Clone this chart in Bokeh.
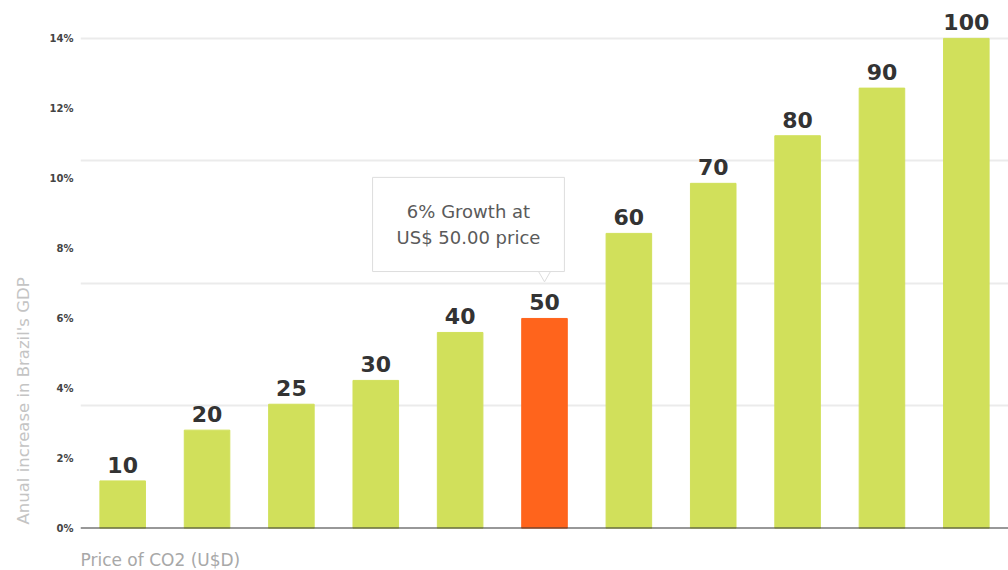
from bokeh.plotting import figure
from bokeh.models import (ColumnDataSource, FactorRange, Range1d, LabelSet, Label,
                          FixedTicker, PrintfTickFormatter, Span, Title)
from bokeh.core.properties import value
from bokeh.embed import file_html
from bokeh.resources import INLINE

# CO2 price (US$) and the resulting annual increase in Brazil's GDP (%)
prices = ["10", "20", "25", "30", "40", "50", "60", "70", "80", "90", "100"]
growth = [1.36, 2.81, 3.55, 4.23, 5.6, 6.0, 8.43, 9.86, 11.22, 12.58, 14.0]
highlight = "50"
y_ticks = [0, 2, 4, 6, 8, 10, 12, 14]
grid_ticks = [3.5, 7, 10.5, 14]

GREEN = "#d1e05b"
ORANGE = "#ff641c"

colors = [ORANGE if p_ == highlight else GREEN for p_ in prices]
src = ColumnDataSource(dict(price=prices, growth=growth, color=colors))

p = figure(width=1008, height=570,
           x_range=FactorRange(factors=prices, range_padding=0),
           y_range=Range1d(0, 14.94),
           output_backend="svg", toolbar_location=None,
           min_border_left=80, min_border_right=0,
           min_border_top=5, min_border_bottom=39)
p.outline_line_color = None
p.background_fill_color = "white"

p.vbar(x="price", top="growth", width=0.54, color="color", source=src)

# price labels above each bar
p.add_layout(LabelSet(x="price", y="growth", text="price", source=src,
                      text_align="center", text_baseline="alphabetic", y_offset=8,
                      text_font=value("DejaVu Sans"), text_font_style="bold",
                      text_font_size="22px", text_color="#333333"))

# callout for the highlighted price (synthetic x: centre of its category slot)
hi = prices.index(highlight)
p.scatter(x=[highlight], y=[growth[hi] + 1.31], marker="inverted_triangle", size=16,
          fill_color="white", line_color="#dddddd", line_width=1)
p.add_layout(Label(x=hi + 0.5, y=growth[hi], x_offset=-76, y_offset=94,
                   text=f"{growth[hi]:g}% Growth at\nUS$ {float(highlight):.2f} price",
                   text_align="center", text_baseline="middle",
                   text_font="DejaVu Sans", text_font_size="18px", text_color="#5a5a5a",
                   background_fill_color="white", border_line_color="#dddddd",
                   padding=24))

# x axis: only the dark baseline
p.xaxis.visible = False
p.xgrid.visible = False
p.add_layout(Span(location=0, dimension="width", line_color="#333333", line_width=2))

p.yaxis.ticker = FixedTicker(ticks=y_ticks)
p.yaxis.formatter = PrintfTickFormatter(format="%d%%")
p.yaxis.axis_line_color = None
p.yaxis.major_tick_line_color = None
p.yaxis.minor_tick_line_color = None
p.yaxis.major_tick_out = 0
p.yaxis.major_tick_in = 0
p.yaxis.major_label_standoff = 7
p.yaxis.major_label_text_font = "DejaVu Sans"
p.yaxis.major_label_text_font_style = "bold"
p.yaxis.major_label_text_font_size = "10px"
p.yaxis.major_label_text_color = "#444444"

p.ygrid.ticker = FixedTicker(ticks=grid_ticks)
p.ygrid.grid_line_color = "#ebebeb"
p.ygrid.grid_line_width = 2

# axis titles, both starting at the lower-left corner of the plot area
p.add_layout(Title(text="Anual increase in Brazil's GDP", align="left", offset=4,
                   vertical_align="top", standoff=24,
                   text_font="DejaVu Sans", text_font_size="16.5px",
                   text_font_style="normal", text_color="#c4c4c4"), "left")
p.add_layout(Title(text="\nPrice of CO2 (U$D)", align="left", offset=0,
                   vertical_align="bottom", standoff=2, text_line_height=0.875,
                   text_font="DejaVu Sans", text_font_size="17px",
                   text_font_style="normal", text_color="#a8a8a8"), "below")

open("out.html", "w").write(file_html(p, INLINE))
